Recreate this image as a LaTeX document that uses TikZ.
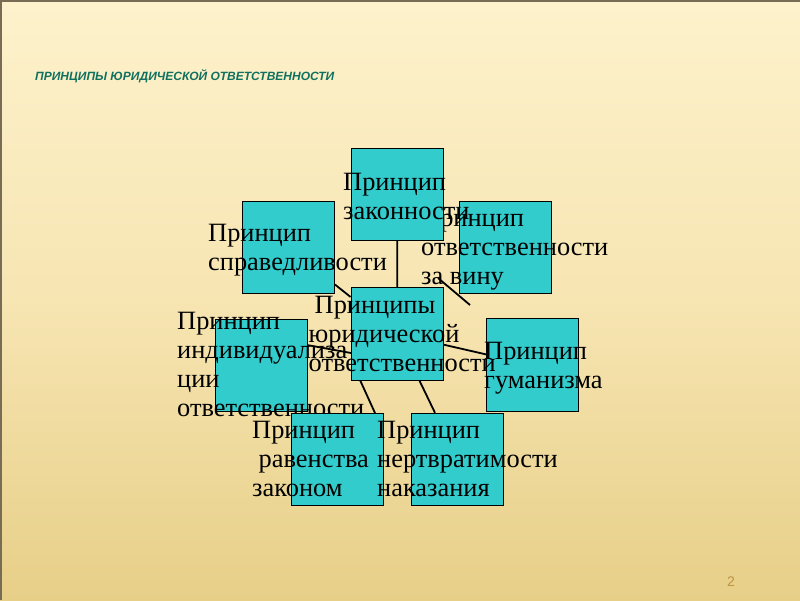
\documentclass[tikz,border=0pt]{standalone}
\usepackage{fontspec}
\setmainfont{Liberation Serif}
\newfontfamily\titlefont{Liberation Sans}
\usetikzlibrary{calc}
\definecolor{bgtop}{RGB}{253,242,204}
\definecolor{bgmid}{RGB}{247,229,178}
\definecolor{bgbot}{RGB}{231,207,136}
\definecolor{boxcol}{RGB}{51,204,204}
\definecolor{titlecol}{RGB}{16,112,96}
\definecolor{numcol}{RGB}{190,148,70}
\definecolor{edgecol}{RGB}{120,108,84}
\newcommand{\boxlines}[1]{\begin{tabular}[t]{@{}l@{}}#1\end{tabular}}
\tikzset{
  box/.style={draw=black, line width=0.9pt, fill=boxcol, minimum width=92pt, minimum height=92.5pt, inner sep=0pt},
  boxtext/.style={anchor=base west, inner sep=0pt, font=\fontsize{26.4}{29}\selectfont},
  link/.style={draw=black, line width=1.8pt}
}
\begin{document}
\begin{tikzpicture}[x=1pt,y=-1pt]
\useasboundingbox (0,0) rectangle (800,600);
\shade[top color=bgtop, bottom color=bgbot, middle color=bgmid] (0,0) rectangle (800,600);
\draw[edgecol, line width=1.5pt] (0.75,600) -- (0.75,0.75) -- (800,0.75);

\node[anchor=base west, inner sep=0pt, text=titlecol, font=\titlefont\bfseries\itshape\fontsize{12}{14}\selectfont] (title) at (35,80.5) {ПРИНЦИПЫ ЮРИДИЧЕСКОЙ ОТВЕТСТВЕННОСТИ};

% box geometry
\coordinate (ctrc) at (397,334);
\coordinate (topc) at (397.5,194.5);
\coordinate (sprc) at (288.5,247.5);
\coordinate (vinc) at (505.5,247.5);
\coordinate (indc) at (261.5,365.5);
\coordinate (humc) at (532.5,365);
\coordinate (eqc) at (337,459.5);
\coordinate (inec) at (457.5,459.5);

% invisible outlines used to clip the connectors at the box borders
\path (ctrc) node[box, draw=none, fill=none] (ctrb) {};
\path (topc) node[box, draw=none, fill=none] (topb) {};
\path (sprc) node[box, draw=none, fill=none] (sprb) {};
\path (humc) node[box, draw=none, fill=none] (humb) {};
\path (inec) node[box, draw=none, fill=none] (ineb) {};

% free-ended connectors
\coordinate (vin1) at (438,278);
\coordinate (vin2) at (470,305);
\coordinate (ind1) at (307,345);
\coordinate (ind2) at (351,353);
\coordinate (eq1) at (360,380);
\coordinate (eq2) at (375,413);

% connectors
\draw[link] (topb) -- (ctrb);
\draw[link] (sprb) -- (ctrb);
\draw[link] (vin1) -- (vin2);
\draw[link] (ind1) -- (ind2);
\draw[link] (ctrb) -- (humb);
\draw[link] (eq1) -- (eq2);
\draw[link] (ctrb) -- (ineb);

% boxes with their texts, in stacking order
\node[box] (spr) at (sprc) {};
\node[boxtext] (sprt) at (208,241.5) {\boxlines{Принцип\\справедливости}};

\node[box] (vin) at (vinc) {};
\node[boxtext] (vint) at (421,226.5) {\boxlines{Принцип\\ответственности\\за вину}};

\node[box] (top) at (topc) {};
\node[boxtext] (topt) at (343,190.5) {\boxlines{Принцип\\законности}};

\node[box] (ind) at (indc) {};
\node[boxtext] (indt) at (177,329) {\boxlines{Принцип\\индивидуализа\\ции\\ответственности}};

\node[box] (hum) at (humc) {};
\node[boxtext] (humt) at (484,359) {\boxlines{Принцип\\гуманизма}};

\node[box] (ctr) at (ctrc) {};
\node[boxtext] (ctrt) at (308.5,313) {\boxlines{\hspace*{6pt}Принципы\\юридической\\ответственности}};

\node[box] (eq) at (eqc) {};
\node[boxtext] (eqt) at (252,438) {\boxlines{Принцип\\\hspace*{6.5pt}равенства\\законом}};

\node[box] (ine) at (inec) {};
\node[boxtext] (inet) at (377,438) {\boxlines{Принцип\\нертвратимости\\наказания}};

\node[anchor=base, inner sep=0pt, text=numcol, font=\titlefont\fontsize{14}{16}\selectfont] (pnum) at (731,586) {2};
\end{tikzpicture}
\end{document}
